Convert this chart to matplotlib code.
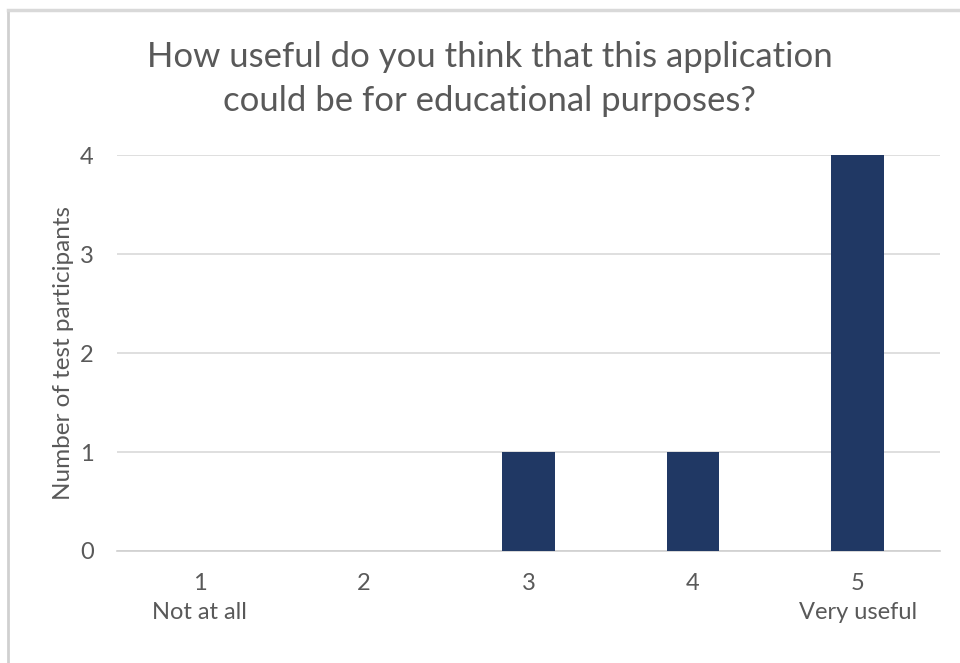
import matplotlib.pyplot as plt
from matplotlib.lines import Line2D

# data
categories = ['1\nNot at all', '2', '3', '4', '5\nVery useful']
counts = [0, 0, 1, 1, 4]
y_ticks = [0, 1, 2, 3, 4]

title = 'How useful do you think that this application\ncould be for educational purposes?'
ylabel = 'Number of test participants'

plt.rcParams['font.family'] = ['Lato', 'DejaVu Sans']
text_col = '#595959'

fig = plt.figure(figsize=(9.6, 6.63), dpi=100)
ax = fig.add_axes([0.122, 0.169, 0.857, 0.597])

x = range(len(categories))
ax.bar(x, counts, width=0.32, color='#203864', zorder=3)

ax.set_xlim(-0.5, len(categories) - 0.5)
ax.set_ylim(0, 4)
ax.set_xticks(list(x))
ax.set_xticklabels(categories, fontsize=17, color=text_col, linespacing=1.45)
ax.set_yticks(y_ticks)
ax.set_yticklabels([str(v) for v in y_ticks], fontsize=17, color=text_col)
ax.tick_params(axis='both', length=0)
ax.tick_params(axis='x', pad=16)
ax.tick_params(axis='y', pad=17)

ax.grid(axis='y', color='#d9d9d9', linewidth=1.2, zorder=0)
for s in ['top', 'right', 'left']:
    ax.spines[s].set_visible(False)
ax.spines['bottom'].set_color('#d0d0d0')
ax.spines['bottom'].set_linewidth(1.2)

ax.set_ylabel(ylabel, fontsize=17.5, color=text_col, labelpad=4)
fig.text(0.51, 0.881, title, ha='center', va='center', fontsize=25,
         color=text_col, linespacing=1.45)

# chart-area border (left + top)
fig.add_artist(Line2D([0.008, 0.008], [0, 0.985], transform=fig.transFigure,
                      color='#d0d0d0', linewidth=2))
fig.add_artist(Line2D([0.008, 1.0], [0.985, 0.985], transform=fig.transFigure,
                      color='#d9d9d9', linewidth=2.5))

fig.savefig('out.png', dpi=100)
